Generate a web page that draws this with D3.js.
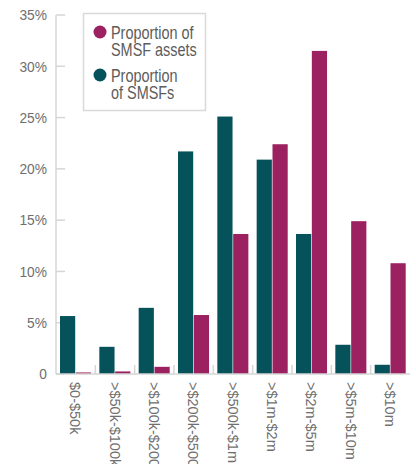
<!DOCTYPE html>
<html lang="en">
  <head>
    <meta charset="utf-8" />
    <title>SMSF proportions</title>
    <script src="https://d3js.org/d3.v7.min.js"></script>
    <style type="text/css">
      body {
        margin: 0;
        background: #fff;
      }
      text {
        font-family: "Liberation Sans", Arial, sans-serif;
      }
      .tick-label {
        font-size: 14.5px;
        fill: #6f6f6f;
      }
      .legend-text {
        font-size: 18.5px;
        fill: #5c5c5c;
      }
    </style>
  </head>
  <body>
    <script type="text/javascript">
      const w = 416;
      const h = 464;

      // Data
      const categories = [
        "$0-$50k",
        ">$50k-$100k",
        ">$100k-$200k",
        ">$200k-$500k",
        ">$500k-$1m",
        ">$1m-$2m",
        ">$2m-$5m",
        ">$5m-$10m",
        ">$10m"
      ];
      const seriesNames = ["Proportion of SMSFs", "Proportion of SMSF assets"];
      const smsfs = [5.65, 2.65, 6.45, 21.7, 25.1, 20.9, 13.65, 2.85, 0.9];
      const assets = [0.15, 0.25, 0.7, 5.75, 13.65, 22.4, 31.5, 14.9, 10.8];
      const yTicks = [0, 5, 10, 15, 20, 25, 30, 35];

      const colors = ["#06525b", "#9b2160"];

      const plotLeft = 56;
      const plotRight = 410;
      const plotTop = 15;
      const plotBottom = 374;

      const svg = d3
        .select("body")
        .append("svg")
        .attr("width", w)
        .attr("height", h);

      // Scales
      const y = d3.scaleLinear().domain([0, 35]).range([plotBottom, plotTop]);
      const x0 = d3.scaleBand().domain(categories).range([plotLeft, plotRight]);
      const x1 = d3
        .scaleBand()
        .domain([0, 1])
        .range([4, x0.bandwidth() - 4.3])
        .paddingInner(0.04);

      // Y axis line and ticks
      svg
        .append("line")
        .attr("x1", plotLeft)
        .attr("x2", plotLeft)
        .attr("y1", plotTop)
        .attr("y2", plotBottom)
        .attr("stroke", "#d6d6d6")
        .attr("stroke-width", 1.5);

      svg
        .selectAll("line.ytick")
        .data(yTicks)
        .enter()
        .append("line")
        .attr("class", "ytick")
        .attr("x1", plotLeft)
        .attr("x2", plotLeft + 9)
        .attr("y1", (d) => y(d))
        .attr("y2", (d) => y(d))
        .attr("stroke", "#d6d6d6")
        .attr("stroke-width", 1.5);

      svg
        .selectAll("text.ylab")
        .data(yTicks)
        .enter()
        .append("text")
        .attr("class", "tick-label ylab")
        .attr("transform", (d) => "translate(47," + y(d) + ") scale(0.95,1)")
        .attr("dy", "0.36em")
        .attr("text-anchor", "end")
        .text((d) => (d === 0 ? "0" : d + "%"));

      // Bars
      const groups = svg
        .selectAll("g.cat")
        .data(categories)
        .enter()
        .append("g")
        .attr("class", "cat")
        .attr("transform", (d) => "translate(" + x0(d) + ",0)");

      groups
        .selectAll("rect")
        .data((d, i) => [smsfs[i], assets[i]])
        .enter()
        .append("rect")
        .attr("x", (d, j) => x1(j))
        .attr("width", x1.bandwidth())
        .attr("y", (d) => y(d))
        .attr("height", (d) => plotBottom - y(d))
        .attr("fill", (d, j) => colors[j]);

      // X axis baseline and ticks
      svg
        .append("line")
        .attr("x1", plotLeft)
        .attr("x2", plotRight)
        .attr("y1", plotBottom)
        .attr("y2", plotBottom)
        .attr("stroke", "#d6d6d6")
        .attr("stroke-width", 1.5);

      svg
        .selectAll("line.xtick")
        .data(categories.slice(1))
        .enter()
        .append("line")
        .attr("class", "xtick")
        .attr("x1", (d) => x0(d))
        .attr("x2", (d) => x0(d))
        .attr("y1", plotBottom - 9)
        .attr("y2", plotBottom)
        .attr("stroke", "#d6d6d6")
        .attr("stroke-width", 1.5);

      svg
        .selectAll("text.xlab")
        .data(categories)
        .enter()
        .append("text")
        .attr("class", "tick-label xlab")
        .attr(
          "transform",
          (d) => "translate(" + (x0(d) + x0.bandwidth() / 2) + "," + 382 + ") rotate(90)"
        )
        .attr("dy", "0.36em")
        .attr("text-anchor", "start")
        .text((d) => d);

      // Legend
      const legend = svg.append("g");
      legend
        .append("rect")
        .attr("x", 83.5)
        .attr("y", 13.5)
        .attr("width", 122)
        .attr("height", 97)
        .attr("fill", "#fff")
        .attr("stroke", "#d9d9d9")
        .attr("stroke-width", 1.5);

      const legendItems = [
        { color: colors[1], lines: ["Proportion of", "SMSF assets"], cy: 32 },
        { color: colors[0], lines: ["Proportion", "of SMSFs"], cy: 75 }
      ];

      legendItems.forEach(function (item) {
        legend
          .append("circle")
          .attr("cx", 100)
          .attr("cy", item.cy)
          .attr("r", 6.5)
          .attr("fill", item.color);
        item.lines.forEach(function (line, k) {
          legend
            .append("text")
            .attr("class", "legend-text")
            .attr(
              "transform",
              "translate(111," + (item.cy + 7 + k * 17) + ") scale(0.78,1)"
            )
            .text(line);
        });
      });
    </script>
  </body>
</html>
